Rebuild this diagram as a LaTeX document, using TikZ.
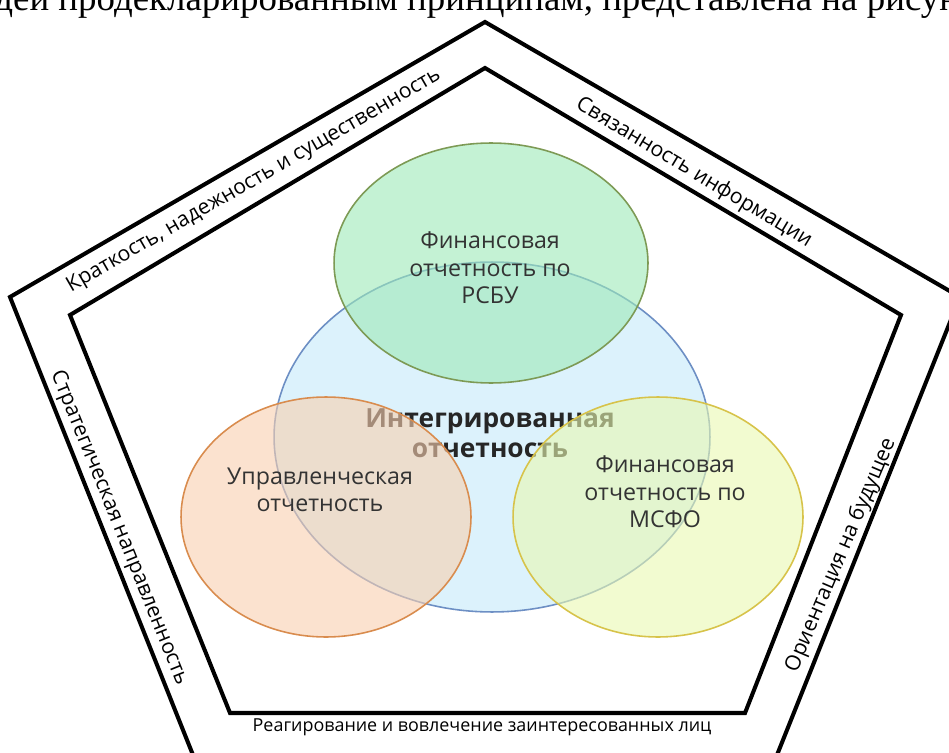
\documentclass[tikz,border=0pt]{standalone}
\usepackage{fontspec}
\setmainfont{Open Sans}
\newfontfamily\serifru{Liberation Serif}
\usetikzlibrary{shapes.geometric}
\definecolor{irfill}{HTML}{DCF2FC}
\definecolor{irline}{HTML}{6D8FC4}
\definecolor{rsbufill}{HTML}{9DE9B7}
\definecolor{rsbuline}{HTML}{7D9A55}
\definecolor{mgmtfill}{HTML}{F8CFAF}
\definecolor{mgmtline}{HTML}{D98C4E}
\definecolor{ifrsfill}{HTML}{E9F8B1}
\definecolor{ifrsline}{HTML}{D7C34A}
\definecolor{darktext}{HTML}{333333}
\tikzset{
  frame/.style={line width=2.3pt, line join=miter},
  bubble/.style={ellipse, draw, line width=0.9pt, inner sep=0pt, fill opacity=0.6},
  side/.style={font=\fontsize{12}{14}\selectfont},
  inlabel/.style={align=center, text=darktext, font=\fontsize{13.2}{15.6}\selectfont},
}
\begin{document}
\begin{tikzpicture}[x=0.02cm, y=-0.02cm]
\useasboundingbox (0,0) rectangle (949,753);
\clip (0,0) rectangle (949,753);
\node [anchor=base west, inner sep=0pt, font=\serifru\fontsize{21}{21}\selectfont] (caption) at (-6,11) {дей продекларированным принципам, представлена на рисунке};
% outer and inner pentagon
\coordinate (o1) at (485,22);
\coordinate (o2) at (960,297);
\coordinate (o3) at (775,760);
\coordinate (o4) at (195,760);
\coordinate (o5) at (10,297);
\coordinate (i1) at (485,68);
\coordinate (i2) at (901,315);
\coordinate (i3) at (745,713);
\coordinate (i4) at (230,713);
\coordinate (i5) at (70,315);
\draw [frame] (o1) -- (o2) -- (o3) -- (o4) -- (o5) -- cycle;
\draw [frame] (i1) -- (i2) -- (i3) -- (i4) -- (i5) -- cycle;
% principles
\node [side, rotate=30] (brevity) at (254,181) {Краткость, надежность и существенность};
\node [side, rotate=-31] (links) at (694,173) {Связанность информации};
\node [side, rotate=-68] (strategy) at (119,528) {Стратегическая направленность};
\node [side, rotate=67] (future) at (841,555) {Ориентация на будущее};
\node [font=\fontsize{10.2}{12}\selectfont] (stake) at (482,727) {Реагирование и вовлечение заинтересованных лиц};
% reporting
\node [ellipse, draw=irline, fill=irfill, line width=0.9pt, inner sep=0pt, minimum width=8.72cm, minimum height=7cm] (ir) at (492,437) {};
\node [align=center, text=black!85, font=\bfseries\fontsize{15}{17}\selectfont] (irtext) at (490,433) {Интегрированная\\отчетность};
\node [bubble, draw=rsbuline, fill=rsbufill, minimum width=6.28cm, minimum height=4.8cm] (rsbu) at (491,263) {};
\node [bubble, draw=mgmtline, fill=mgmtfill, minimum width=5.8cm, minimum height=4.8cm] (mgmt) at (326,517) {};
\node [bubble, draw=ifrsline, fill=ifrsfill, minimum width=5.8cm, minimum height=4.8cm] (ifrs) at (658,517) {};
\node [inlabel] (rsbutext) at (490,268) {Финансовая\\отчетность по\\РСБУ};
\node [inlabel] (mgmttext) at (320,490) {Управленческая\\отчетность};
\node [inlabel] (ifrstext) at (665,492) {Финансовая\\отчетность по\\МСФО};
\end{tikzpicture}
\end{document}
